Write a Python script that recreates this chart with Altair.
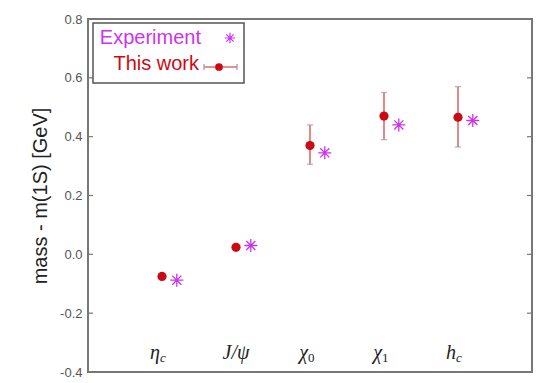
import altair as alt
import pandas as pd

# ---- data ----
label_main = ["η", "J/ψ", "χ", "χ", "h"]
label_sub = ["c", "", "0", "1", "c"]
positions = [1, 2, 3, 4, 5]
this_work = [-0.075, 0.024, 0.37, 0.47, 0.466]
this_work_lo = [-0.080, 0.020, 0.306, 0.39, 0.365]
this_work_hi = [-0.070, 0.028, 0.44, 0.55, 0.57]
experiment = [-0.088, 0.03, 0.345, 0.44, 0.455]
y_ticks = [-0.4, -0.2, 0.0, 0.2, 0.4, 0.6, 0.8]
legend_labels = ["Experiment", "This work"]

RED = "#cc0a14"
MAG = "#cc33ee"
ERR = "#e06a6a"
CAP = "#9a9a9a"
STAR = "M-1,0L1,0M0,-1L0,1M-0.7,-0.7L0.7,0.7M-0.7,0.7L0.7,-0.7"

W, H = 444, 353

df = pd.DataFrame({
    "pos": positions, "main": label_main, "sub": label_sub,
    "tw": this_work, "lo": this_work_lo, "hi": this_work_hi, "exp": experiment,
})
ticks_df = pd.DataFrame({"t": y_ticks})
one = pd.DataFrame({"a": [0]})

xs = alt.Scale(domain=[0, 6], nice=False, zero=False)
ys = alt.Scale(domain=[-0.4, 0.8], nice=False, zero=False)

base = alt.Chart(df)

y_axis = alt.Axis(
    values=y_ticks, format=".1f", tickSize=0, domain=False, grid=False,
    labelPadding=6, labelFontSize=13, labelColor="#555", labelFont="Liberation Sans",
    title="mass - m(1S) [GeV]", titleFontSize=20, titleFont="Liberation Sans",
    titleFontWeight="normal", titleColor="#222", titlePadding=9,
    labelExpr="replace(format(datum.value, '.1f'), '\u2212', '-')",
)

frame_axis = alt.Chart(ticks_df).mark_rule(strokeWidth=0).encode(
    x=alt.X("t:Q", scale=xs, axis=None),
    y=alt.Y("t:Q", scale=ys, axis=y_axis),
)

ticks_left = alt.Chart(ticks_df).mark_rule(color="#777", strokeWidth=1.2).encode(
    x=alt.value(0), x2=alt.value(5), y=alt.Y("t:Q", scale=ys))
ticks_right = alt.Chart(ticks_df).mark_rule(color="#777", strokeWidth=1.2).encode(
    x=alt.value(W - 5), x2=alt.value(W), y=alt.Y("t:Q", scale=ys))

err = base.mark_rule(color=ERR, strokeWidth=1.6).encode(
    x=alt.X("pos:Q", scale=xs), y=alt.Y("lo:Q", scale=ys), y2="hi:Q")
cap_hi = base.mark_tick(orient="horizontal", color=CAP, size=6, thickness=1.3).encode(
    x=alt.X("pos:Q", scale=xs), y=alt.Y("hi:Q", scale=ys))
cap_lo = base.mark_tick(orient="horizontal", color=CAP, size=6, thickness=1.3).encode(
    x=alt.X("pos:Q", scale=xs), y=alt.Y("lo:Q", scale=ys))

pts = base.mark_point(shape="circle", filled=True, color=RED, opacity=1, size=85).encode(
    x=alt.X("pos:Q", scale=xs), y=alt.Y("tw:Q", scale=ys))

stars = base.transform_calculate(px="datum.pos + 0.2").mark_point(
    shape=STAR, filled=False, stroke=MAG, strokeWidth=1.3, size=170, opacity=1
).encode(x=alt.X("px:Q", scale=xs), y=alt.Y("exp:Q", scale=ys))

lab_font = dict(font="Liberation Serif", fontStyle="italic", fontSize=20, color="#222",
                baseline="middle")
lab_main_sub = base.transform_filter("datum.sub != ''").mark_text(
    align="right", dx=-2, **lab_font).encode(
    x=alt.X("pos:Q", scale=xs), y=alt.value(334), text="main:N")
lab_main_nosub = base.transform_filter("datum.sub == ''").mark_text(
    align="center", dx=0, **lab_font).encode(
    x=alt.X("pos:Q", scale=xs), y=alt.value(334), text="main:N")
lab_sub_it = base.transform_filter("datum.sub == 'c'").mark_text(
    align="left", dx=-2, font="Liberation Serif", fontStyle="italic", fontSize=13,
    color="#222", baseline="middle").encode(
    x=alt.X("pos:Q", scale=xs), y=alt.value(339), text="sub:N")
lab_sub_up = base.transform_filter("datum.sub == '0' || datum.sub == '1'").mark_text(
    align="left", dx=-2, font="Liberation Serif", fontSize=13,
    color="#222", baseline="middle").encode(
    x=alt.X("pos:Q", scale=xs), y=alt.value(339), text="sub:N")

# ---- legend (drawn by hand) ----
leg_box = alt.Chart(one).mark_rect(fill="white", stroke="#555", strokeWidth=1.5).encode(
    x=alt.value(5), x2=alt.value(156), y=alt.value(4), y2=alt.value(64))
leg_exp = alt.Chart(one).mark_text(text=legend_labels[0], align="right", baseline="middle",
                                   font="Liberation Sans", fontSize=20, color=MAG).encode(
    x=alt.value(113), y=alt.value(19))
leg_tw = alt.Chart(one).mark_text(text=legend_labels[1], align="right", baseline="middle",
                                  font="Liberation Sans", fontSize=20, color=RED).encode(
    x=alt.value(111), y=alt.value(45))
leg_star = alt.Chart(one).mark_point(shape=STAR, filled=False, stroke=MAG, strokeWidth=1.2,
                                     size=110, opacity=1).encode(
    x=alt.value(142), y=alt.value(19))
leg_bar = alt.Chart(one).mark_rule(color=ERR, strokeWidth=1.6).encode(
    x=alt.value(116), x2=alt.value(149), y=alt.value(48))
leg_cap1 = alt.Chart(one).mark_rule(color=CAP, strokeWidth=1.2).encode(
    x=alt.value(116), y=alt.value(45), y2=alt.value(51))
leg_cap2 = alt.Chart(one).mark_rule(color=CAP, strokeWidth=1.2).encode(
    x=alt.value(149), y=alt.value(45), y2=alt.value(51))
leg_dot = alt.Chart(one).mark_point(shape="circle", filled=True, color=RED, opacity=1,
                                    size=60).encode(x=alt.value(131), y=alt.value(48))

chart = alt.layer(
    frame_axis, ticks_left, ticks_right, err, cap_hi, cap_lo, pts, stars,
    lab_main_sub, lab_main_nosub, lab_sub_it, lab_sub_up,
    leg_box, leg_exp, leg_tw, leg_star, leg_bar, leg_cap1, leg_cap2, leg_dot,
).properties(
    width=W, height=H,
    autosize=alt.AutoSizeParams(type="none"),
    padding={"left": 88, "top": 19, "right": 12, "bottom": 11},
    background="white",
).configure_view(stroke="#777", strokeWidth=2)

chart.save("out.html", embed_options={"renderer": "svg", "actions": False})
